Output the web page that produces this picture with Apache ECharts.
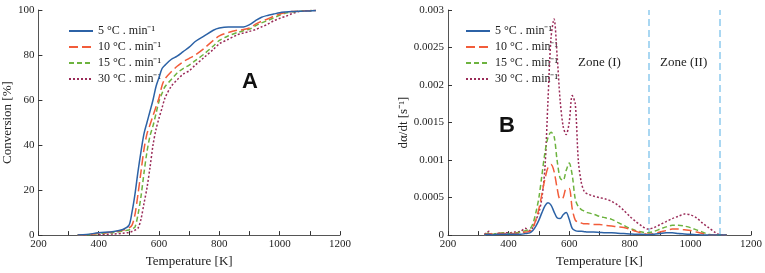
<!DOCTYPE html>
<html><head><meta charset="utf-8">
<script src="https://cdn.jsdelivr.net/npm/echarts@6/dist/echarts.min.js"></script>
<style>html,body{margin:0;padding:0;background:#fff}#c{width:765px;height:273px}</style>
</head><body><div id="c"></div>
<script>
// ---- Data: Conversion (A) ----
const tempA = [330,360,400,450,480,500,510,520,530,540,550,560,570,580,590,600,610,620,640,660,680,700,720,750,780,800,830,860,880,900,920,940,960,980,1000,1020,1040,1060,1080,1100,1120];
const convA5  = [0,0.3,1,1.6,2.5,4.3,10,18,28,37,45,50,55,60,66,70,74,75.5,78,79.5,81.5,83.5,86,88.5,91,92,92.5,92.5,92.5,93.5,95.3,96.8,97.6,98.2,98.8,99.1,99.3,99.4,99.5,99.6,99.8];
const convA10 = [0,0.1,0.8,1.4,2.2,3.2,4.3,9,18,28,38,45,49,53,57,61,66.5,69.5,72.5,75,77,78.5,80,83,86.5,88.5,90,91,91.3,92,93.7,95,96,97.2,98.2,98.9,99.3,99.5,99.6,99.7,99.8];
const convA15 = [0,0.1,0.7,1.2,1.8,2.3,2.8,3.5,9,17,27.5,37,44,48.5,54,59.5,63,66,69,72,74,75.5,77.5,80.5,84,86.5,88.5,90,90.8,91.5,93,94.3,95.3,96.5,97.7,98.6,99.2,99.4,99.6,99.7,99.8];
const convA30 = [null,null,0.2,0.5,0.8,1.2,1.6,2.2,3,7,14,21,30,40,47,52,56.5,61,66,69,71.5,73,75.5,79,82.5,85,87,89,89.8,90.5,91.3,92.5,93.7,95.2,96.3,97.2,98.3,99.2,99.5,99.7,99.8];

// ---- Data: Rate (B) ----
const tempB = [320,335,345,360,380,400,420,440,455,470,480,490,500,510,520,530,540,550,560,570,580,590,600,610,620,630,640,650,660,680,700,720,740,760,780,800,820,840,860,880,900,920,940,960,980,1000,1020,1040,1060,1080,1100,1120];
const rateB5  = [0,0.00001,0,0.00001,0.00001,0.00001,0.00001,0.00001,0.00002,0.00003,0.00006,0.00012,0.0002,0.0003,0.00039,0.00043,0.0004,0.00031,0.00023,0.00022,0.00027,0.0003,0.00021,0.00009,0.00006,0.00005,0.00005,0.000045,0.00004,0.00004,0.000035,0.00003,0.00003,0.000025,0.00002,0.000015,0.00001,0.00001,0.000005,0.00001,0.00002,0.00003,0.00003,0.00002,0.000015,0.00001,0.000005,0,0,0,0,0];
const rateB10 = [0,0.00002,0.00001,0.00002,0.00002,0.00002,0.00002,0.00003,0.00004,0.00005,0.0001,0.0002,0.00035,0.00055,0.00075,0.0009,0.00094,0.00085,0.00063,0.00048,0.0005,0.00062,0.00062,0.00035,0.0002,0.00017,0.00016,0.00015,0.00015,0.00014,0.00014,0.00013,0.00012,0.00011,0.0001,0.00008,0.00005,0.00003,0.00001,0.00002,0.00004,0.00006,0.00008,0.00008,0.00007,0.00006,0.00004,0.00002,0,0,0,0];
const rateB15 = [0,0.00003,0.00001,0.00002,0.00003,0.00002,0.00003,0.00004,0.00006,0.00008,0.00015,0.0003,0.0005,0.0008,0.0011,0.0013,0.00137,0.00132,0.001,0.00076,0.00073,0.00086,0.00096,0.0008,0.00048,0.00038,0.00034,0.00032,0.0003,0.00028,0.00025,0.00023,0.00021,0.00017,0.00013,0.00009,0.00006,0.00004,0.00003,0.00005,0.00008,0.00011,0.00013,0.00013,0.00012,0.0001,0.00007,0.00004,0.00001,0,0,0];
const rateB30 = [0.00001,0.00005,0.00001,0.00002,0.00003,0.00003,0.00004,0.00005,0.00009,0.00006,0.0001,0.0002,0.0003,0.0005,0.0009,0.0018,0.00263,0.00288,0.0024,0.0018,0.00145,0.00134,0.0015,0.00186,0.00175,0.001,0.0007,0.00058,0.00055,0.00052,0.0005,0.00048,0.00045,0.0004,0.00033,0.00025,0.00018,0.00012,0.00008,0.0001,0.00014,0.00018,0.00022,0.00025,0.00028,0.00027,0.00023,0.00016,0.0001,0.00004,0,0];

const zoneLines = [862, 1098];
const seriesNames = ['5 °C . min⁻¹','10 °C . min⁻¹','15 °C . min⁻¹','30 °C . min⁻¹'];
const xTicks = [200,400,600,800,1000,1200];
const yTicksA = [0,20,40,60,80,100];
const yTicksB = [0,0.0005,0.001,0.0015,0.002,0.0025,0.003];

const colors = ['#2c62a6','#f25c3a','#6db33f','#9a2b58'];
const dashes = ['solid',[9,4],[5,3],[2,2]];
const widths = [1.5,1.5,1.5,1.5];

const zip = (xs, ys) => xs.map((x,i)=>[x, ys[i]]);
const serif = 'Liberation Serif, Times New Roman, serif';

function mkX(gi){
  return {type:'value', gridIndex:gi, min:xTicks[0], max:xTicks[xTicks.length-1], interval:200,
    name:'Temperature [K]', nameLocation:'middle', nameGap:16,
    nameTextStyle:{fontFamily:serif,fontSize:13,color:'#222'},
    axisLine:{lineStyle:{color:'#555',width:1}},
    axisTick:{inside:true,length:4,lineStyle:{color:'#333'}},
    minorTick:{show:true,splitNumber:2,length:4,lineStyle:{color:'#333'}},
    axisLabel:{fontFamily:serif,fontSize:11,color:'#222',margin:4,formatter:v=>String(v)},
    splitLine:{show:false}};
}
const dataA = [convA5,convA10,convA15,convA30];
const dataB = [rateB5,rateB10,rateB15,rateB30];
const series = [];
for (let i=0;i<4;i++){
  series.push({type:'line', name:seriesNames[i], xAxisIndex:0, yAxisIndex:0, data:zip(tempA,dataA[i]),
    showSymbol:false, symbol:'none', smooth:0.3, color:colors[i], lineStyle:{color:colors[i],type:dashes[i],width:widths[i]}, z:10-i});
}
for (let i=0;i<4;i++){
  const s = {type:'line', name:seriesNames[i], xAxisIndex:1, yAxisIndex:1, data:zip(tempB,dataB[i]),
    showSymbol:false, symbol:'none', smooth:0.3, color:colors[i], lineStyle:{color:colors[i],type:dashes[i],width:widths[i]}, z:10-i};
  if (i===0){
    s.markLine = {silent:true, symbol:'none', label:{show:false},
      lineStyle:{color:'#a9d7f2',type:[7,4],width:2}, data: zoneLines.map(v=>({xAxis:v}))};
  }
  series.push(s);
}
const legendBase = {orient:'vertical', itemWidth:24, itemHeight:8, itemGap:4,
  itemStyle:{opacity:0},
  textStyle:{fontFamily:serif,fontSize:12,color:'#222'}, data:seriesNames, selectedMode:false};

const chart = echarts.init(document.getElementById('c'), null, {renderer:'canvas'});
chart.setOption({
  animation:false,
  backgroundColor:'#fff',
  grid:[{left:35,right:425,top:10,bottom:33},{left:448,right:12,top:10,bottom:33}],
  xAxis:[mkX(0),mkX(1)],
  yAxis:[
    {type:'value',gridIndex:0,min:0,max:100,interval:20,name:'Conversion [%]',nameLocation:'middle',nameGap:24,
     nameTextStyle:{fontFamily:serif,fontSize:13,color:'#222'},
     axisLine:{show:true,lineStyle:{color:'#555'}},axisTick:{show:true,inside:true,length:4,lineStyle:{color:'#333'}},
     axisLabel:{fontFamily:serif,fontSize:11,color:'#222',margin:4},splitLine:{show:false}},
    {type:'value',gridIndex:1,min:0,max:0.003,interval:0.0005,name:'dα/dt [s⁻¹]',nameLocation:'middle',nameGap:37,
     nameTextStyle:{fontFamily:serif,fontSize:13,color:'#222'},
     axisLine:{show:true,lineStyle:{color:'#555'}},axisTick:{show:true,inside:true,length:4,lineStyle:{color:'#333'}},
     axisLabel:{fontFamily:serif,fontSize:11,color:'#222',margin:4,formatter:v=>String(+v.toFixed(4))},splitLine:{show:false}}
  ],
  legend:[
    Object.assign({},legendBase,{left:63,top:20}),
    Object.assign({},legendBase,{left:460,top:20})
  ],
  series:series,
  graphic:[
    {type:'text',left:242,top:71,style:{text:'A',font:'bold 22px Liberation Sans, Arial, sans-serif',fill:'#111'}},
    {type:'text',left:499,top:115,style:{text:'B',font:'bold 22px Liberation Sans, Arial, sans-serif',fill:'#111'}},
    {type:'text',left:578,top:56,style:{text:'Zone (I)',font:'13px Liberation Serif, serif',fill:'#222'}},
    {type:'text',left:660,top:56,style:{text:'Zone (II)',font:'13px Liberation Serif, serif',fill:'#222'}}
  ]
});
</script></body></html>
